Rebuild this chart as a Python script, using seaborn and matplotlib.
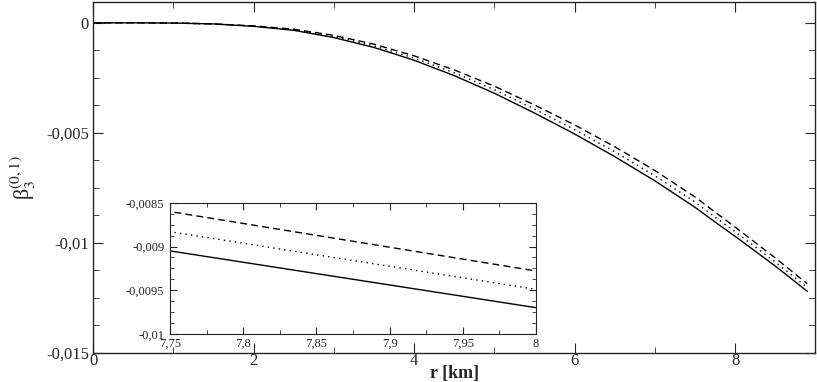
import numpy as np
import pandas as pd
import matplotlib
matplotlib.use("Agg")
import matplotlib.pyplot as plt
from matplotlib.ticker import MultipleLocator, FuncFormatter
import seaborn as sns

# radius grid [km]
r_km = [0, 0.5, 1, 1.5, 2, 2.5, 3, 3.5, 4, 4.5, 5, 5.5, 6, 6.5, 7, 7.5, 7.75, 8, 8.5, 8.9]
beta_solid = [0, 0, -0.00001, -0.00005, -0.00016, -0.00034, -0.00067, -0.00112, -0.00170,
              -0.00240, -0.00320, -0.00410, -0.00505, -0.00608, -0.00718, -0.00838,
              -0.00905, -0.00970, -0.01105, -0.01220]
beta_dotted = [0, 0, -0.00001, -0.00005, -0.00015, -0.00032, -0.00062, -0.00105, -0.00160,
               -0.00227, -0.00304, -0.00392, -0.00485, -0.00586, -0.00695, -0.00814,
               -0.00883, -0.00949, -0.01087, -0.01203]
beta_dashed = [0, 0, -0.00001, -0.00005, -0.00014, -0.00029, -0.00057, -0.00097, -0.00150,
               -0.00214, -0.00288, -0.00373, -0.00464, -0.00563, -0.00671, -0.00791,
               -0.00860, -0.00928, -0.01068, -0.01186]

sns.set_style("ticks")
plt.rcParams['font.family'] = ['Liberation Serif', 'DejaVu Serif']
plt.rcParams['mathtext.fontset'] = 'stix'

df = pd.DataFrame({"r": r_km, "solid": beta_solid, "dotted": beta_dotted, "dashed": beta_dashed})


def comma_fmt(v, pos):
    s = f"{v:g}"
    if s == "-0":
        s = "0"
    return s.replace(".", ",")


def draw_curves(ax, lw):
    sns.lineplot(data=df, x="r", y="solid", ax=ax, color="black", lw=lw, linestyle="-")
    sns.lineplot(data=df, x="r", y="dotted", ax=ax, color="black", lw=lw, linestyle=(0, (1, 3)))
    sns.lineplot(data=df, x="r", y="dashed", ax=ax, color="black", lw=lw, linestyle=(0, (5, 3)))


fig = plt.figure(figsize=(8.17, 3.82), dpi=100)
ax = fig.add_axes([0.114, 0.076, 0.884, 0.919])
draw_curves(ax, 1.0)
ax.set_xlim(0, 9)
ax.set_ylim(-0.015, 0.00095)
ax.xaxis.set_major_locator(MultipleLocator(2))
ax.xaxis.set_minor_locator(MultipleLocator(1))
ax.yaxis.set_major_locator(MultipleLocator(0.005))
ax.yaxis.set_minor_locator(MultipleLocator(0.00125))
ax.xaxis.set_major_formatter(FuncFormatter(comma_fmt))
ax.yaxis.set_major_formatter(FuncFormatter(comma_fmt))
ax.tick_params(which="both", direction="in", top=True, right=True, labelsize=12)
ax.tick_params(which="major", length=7)
ax.tick_params(which="minor", length=4)
ax.tick_params(axis="x", pad=0)
ax.tick_params(axis="y", pad=3)
ax.set_xlabel("r [km]", fontsize=13, fontweight="bold", labelpad=-3)
ax.set_ylabel("β" + r"$_3^{(0,1)}$", fontsize=16, labelpad=6)
for s in ax.spines.values():
    s.set_linewidth(1.0)

# inset
axin = fig.add_axes([0.208, 0.126, 0.448, 0.343])
draw_curves(axin, 1.0)
axin.set_xlim(7.75, 8)
axin.set_ylim(-0.01, -0.0085)
axin.xaxis.set_major_locator(MultipleLocator(0.05))
axin.xaxis.set_minor_locator(MultipleLocator(0.025))
axin.yaxis.set_major_locator(MultipleLocator(0.0005))
axin.yaxis.set_minor_locator(MultipleLocator(0.000125))
axin.xaxis.set_major_formatter(FuncFormatter(comma_fmt))
axin.yaxis.set_major_formatter(FuncFormatter(comma_fmt))
axin.tick_params(which="both", direction="in", top=True, right=True, labelsize=9)
axin.tick_params(axis="x", pad=3)
axin.tick_params(axis="y", pad=4)
axin.tick_params(which="major", length=5)
axin.tick_params(which="minor", length=3)
axin.set_xlabel("")
axin.set_ylabel("")

fig.savefig("out.png", dpi=100)
